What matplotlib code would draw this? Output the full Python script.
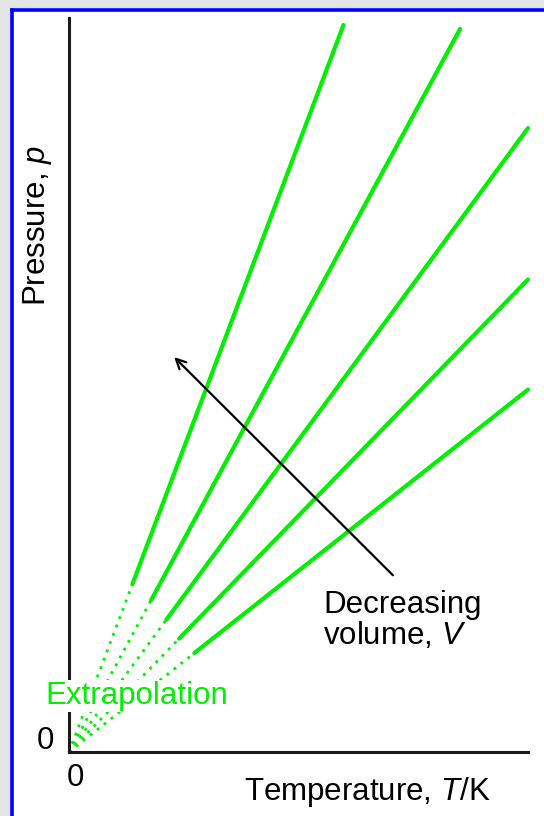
import matplotlib
matplotlib.use("Agg")
import matplotlib.pyplot as plt
from matplotlib.patches import Rectangle
from matplotlib.lines import Line2D

plt.rcParams['font.family'] = ['Liberation Sans', 'DejaVu Sans']
plt.rcParams['mathtext.fontset'] = 'custom'
plt.rcParams['mathtext.rm'] = 'Liberation Sans'
plt.rcParams['mathtext.it'] = 'Liberation Sans:italic'

# Isochores p = k*T (arbitrary units)
slopes = [2.65, 1.85, 1.36, 1.03, 0.79]
t_solid_start = [1.38, 1.79, 2.12, 2.40, 2.73]
t_end = [5.98, 8.52, 10.0, 10.0, 10.0]
arrow_tail = (7.10, 3.81)
arrow_head = (2.25, 8.65)
x_max, y_max = 10.0, 16.0

W, H = 544, 816
fig = plt.figure(figsize=(W / 100, H / 100), dpi=100)
fig.patch.set_facecolor('#e4e4e4')
# white panel and blue frame
fig.patches.append(Rectangle((10 / W, 0), 1, 1 - 8 / H, transform=fig.transFigure,
                             facecolor='white', edgecolor='none', zorder=-5))
fig.add_artist(Line2D([11.5 / W, 11.5 / W], [0, 1 - 9.5 / H], transform=fig.transFigure,
                      color='#0000ff', lw=2.6, zorder=-4))
fig.add_artist(Line2D([11.5 / W, 1], [1 - 9.5 / H, 1 - 9.5 / H], transform=fig.transFigure,
                      color='#0000ff', lw=2.6, zorder=-4))

ax = fig.add_axes([69 / W, (H - 752) / H, (528 - 69) / W, (752 - 18) / H])
ax.set_xlim(0, x_max)
ax.set_ylim(0, y_max)
ax.patch.set_alpha(0)
for s in ['top', 'right']:
    ax.spines[s].set_visible(False)
for s in ['left', 'bottom']:
    ax.spines[s].set_linewidth(2.2)
    ax.spines[s].set_color('#1a1a1a')
ax.set_xticks([])
ax.set_yticks([])

green = '#00f000'
for k, t0, t1 in zip(slopes, t_solid_start, t_end):
    ax.plot([0, t0], [0, k * t0], color=green, lw=2.0, ls=(0, (1, 2.2)),
            solid_capstyle='butt', clip_on=False)
    ax.plot([t0, t1], [k * t0, k * t1], color=green, lw=3.0,
            solid_capstyle='round', clip_on=False)

ax.annotate('', xy=arrow_head, xytext=arrow_tail,
            arrowprops=dict(arrowstyle='->,head_length=0.7,head_width=0.35',
                            color='black', lw=1.6))

fs = 22.5
fig.text(45 / W, 1 - 741 / H, '0', fontsize=fs, ha='center', va='center')
fig.text(75 / W, 1 - 778 / H, '0', fontsize=fs, ha='center', va='center')
fig.text(367 / W, 1 - 792 / H, 'Temperature, $\\mathit{T}$/K', fontsize=fs,
         ha='center', va='center')
fig.text(37 / W, 1 - 226 / H, 'Pressure, $\\mathit{p}$', fontsize=fs,
         ha='center', va='center', rotation=90)
fig.text(45 / W, 1 - 696 / H, 'Extrapolation', fontsize=fs, color=green,
         ha='left', va='center',
         bbox=dict(facecolor='white', edgecolor='none', pad=1.0))
fig.text(323 / W, 1 - 620 / H, 'Decreasing\nvolume, $\\mathit{V}$', fontsize=fs,
         ha='left', va='center', linespacing=1.0)

fig.savefig('out.png', dpi=100, facecolor=fig.get_facecolor())
